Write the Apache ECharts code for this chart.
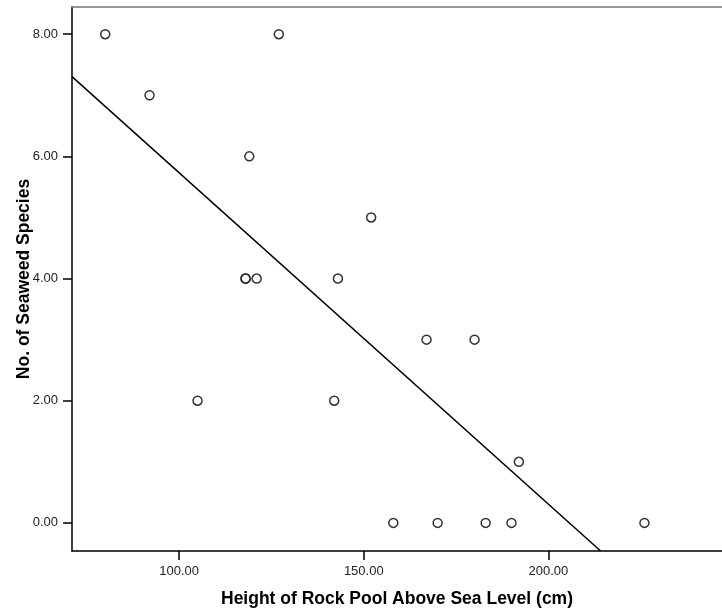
<!DOCTYPE html>
<html>
<head>
<meta charset="utf-8">
<title>Seaweed species vs rock pool height</title>
<script src="https://cdn.jsdelivr.net/npm/echarts@6.0.0/dist/echarts.min.js"></script>
<style>
  html, body { margin: 0; padding: 0; background: #fff; }
  #chart { width: 722px; height: 610px; }
</style>
</head>
<body>
<div id="chart"></div>
<script>
// rock pool height above sea level (cm) and number of seaweed species
const heights = [80, 92, 127, 119, 118, 118, 121, 105, 152, 143, 167, 180, 142, 192, 158, 170, 183, 190, 226];
const species = [8, 7, 8, 6, 4, 4, 4, 2, 5, 4, 3, 3, 2, 1, 0, 0, 0, 0, 0];
const xTicks = [100, 150, 200];
const yTicks = [0, 2, 4, 6, 8];

const xMin = 71, xMax = 247;
const yMin = -0.46, yMax = 8.445;

// least squares fit line, clipped to the plot area like SPSS does
const n = heights.length;
const mx = heights.reduce((a, b) => a + b, 0) / n;
const my = species.reduce((a, b) => a + b, 0) / n;
let sxy = 0, sxx = 0;
for (let i = 0; i < n; i++) {
  sxy += (heights[i] - mx) * (species[i] - my);
  sxx += (heights[i] - mx) * (heights[i] - mx);
}
const slope = sxy / sxx;
const icpt = my - slope * mx;
const fitLine = [
  [xMin, icpt + slope * xMin],
  [(yMin - icpt) / slope, yMin]
];

const points = heights.map((h, i) => [h, species[i]]);

const font = "'Liberation Sans', Arial, sans-serif";
const fmt = (v) => v.toFixed(2);

const chart = echarts.init(document.getElementById("chart"));
chart.setOption({
  animation: false,
  backgroundColor: "#fff",
  grid: {
    left: 72,
    top: 7,
    right: 0,
    bottom: 59,
    outerBoundsMode: "none"
  },
  xAxis: [
    {
      type: "value",
      position: "bottom",
      min: xMin,
      max: xMax,
      name: "Height of Rock Pool Above Sea Level (cm)",
      nameLocation: "middle",
      nameGap: 39,
      nameMoveOverlap: false,
      nameTextStyle: { fontFamily: font, fontWeight: "bold", fontSize: 17.5, color: "#000" },
      axisLine: { show: true, onZero: false, lineStyle: { color: "#000", width: 1.5 } },
      axisTick: { show: true, length: 9, customValues: xTicks, lineStyle: { color: "#000", width: 1.5 } },
      axisLabel: {
        customValues: xTicks,
        margin: 14,
        fontFamily: font,
        fontSize: 13,
        color: "#222",
        formatter: fmt
      },
      splitLine: { show: false }
    },
    {
      // top frame line only
      type: "value",
      position: "top",
      min: xMin,
      max: xMax,
      axisLine: { show: true, onZero: false, lineStyle: { color: "#777", width: 1.5 } },
      axisTick: { show: false },
      axisLabel: { show: false },
      splitLine: { show: false }
    }
  ],
  yAxis: {
    type: "value",
    min: yMin,
    max: yMax,
    name: "No. of Seaweed Species",
    nameLocation: "middle",
    nameRotate: 90,
    nameGap: 39,
    nameMoveOverlap: false,
    nameTextStyle: { fontFamily: font, fontWeight: "bold", fontSize: 17.5, color: "#000" },
    axisLine: { show: true, onZero: false, lineStyle: { color: "#000", width: 1.5 } },
    axisTick: { show: true, length: 9, customValues: yTicks, lineStyle: { color: "#000", width: 1.5 } },
    axisLabel: {
      customValues: yTicks,
      margin: 14,
      fontFamily: font,
      fontSize: 13,
      color: "#222",
      formatter: fmt
    },
    splitLine: { show: false }
  },
  series: [
    {
      type: "line",
      data: fitLine,
      symbol: "none",
      lineStyle: { color: "#000", width: 1.5 },
      z: 1
    },
    {
      type: "scatter",
      data: points,
      symbol: "circle",
      symbolSize: 9,
      itemStyle: { color: "#fff", borderColor: "#000", borderWidth: 1.5 },
      z: 2
    }
  ]
});
</script>
</body>
</html>
